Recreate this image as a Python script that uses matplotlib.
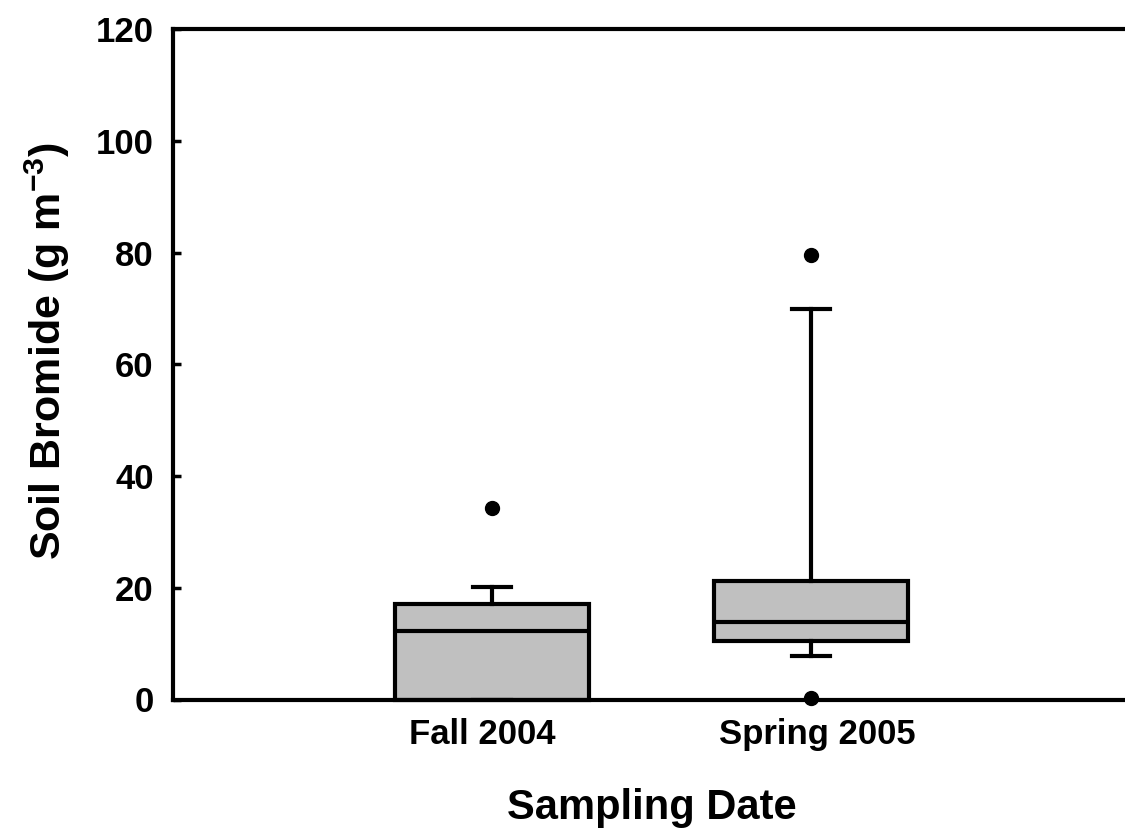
import matplotlib
matplotlib.use("Agg")
from matplotlib import pyplot as plt

plt.rcParams["font.family"] = ["Liberation Sans", "DejaVu Sans"]
plt.rcParams["font.weight"] = "bold"
plt.rcParams["mathtext.fontset"] = "custom"
plt.rcParams["mathtext.rm"] = "Liberation Sans:bold"
plt.rcParams["mathtext.bf"] = "Liberation Sans:bold"
plt.rcParams["mathtext.default"] = "bf"

dates = ["Fall 2004", "Spring 2005"]
q1 = [0.0, 10.5]
med = [12.3, 13.8]
q3 = [17.1, 21.2]
whis_lo = [0.0, 7.85]
whis_hi = [20.2, 69.9]
outliers = [[34.2], [79.5, 0.3]]

stats = []
for i in range(len(dates)):
    stats.append({"label": dates[i], "q1": q1[i], "med": med[i], "q3": q3[i],
                  "whislo": whis_lo[i], "whishi": whis_hi[i], "fliers": outliers[i]})

fig = plt.figure(figsize=(11.25, 8.32), dpi=100)
ax = fig.add_axes([173/1125, 1 - 699.5/832, 957/1125, (699.5 - 29)/832])

lw = 3
bp = ax.bxp(stats, positions=[1, 2], widths=0.61, capwidths=0.12, patch_artist=True,
            boxprops=dict(facecolor="#c0c0c0", edgecolor="black", linewidth=lw),
            medianprops=dict(color="black", linewidth=lw),
            whiskerprops=dict(color="black", linewidth=lw),
            capprops=dict(color="black", linewidth=lw),
            flierprops=dict(marker="o", markerfacecolor="black", markeredgecolor="black",
                            markersize=10))
for art in bp["fliers"] + bp["boxes"]:
    art.set_clip_on(False)

ax.set_xlim(0, 3)
ax.set_ylim(0, 120)
ax.set_yticks(range(0, 121, 20))
# labels sit a little off the box centres in the original
ax.set_xticks([0.97, 2.02])
ax.set_xticklabels(dates)
ax.spines["right"].set_visible(False)
for s in ["left", "bottom", "top"]:
    ax.spines[s].set_linewidth(3)
ax.tick_params(axis="y", direction="in", length=6, width=2.5, pad=14, labelsize=25)
ax.tick_params(axis="x", length=0, pad=13, labelsize=25)

ax.set_xlabel("Sampling Date", fontsize=30, fontweight="bold", labelpad=27)
ax.set_ylabel("Soil Bromide (g m$^{-3}$)", fontsize=31, fontweight="bold")
ax.yaxis.set_label_coords(-0.106, 0.52)

fig.savefig("out.png", dpi=100)
